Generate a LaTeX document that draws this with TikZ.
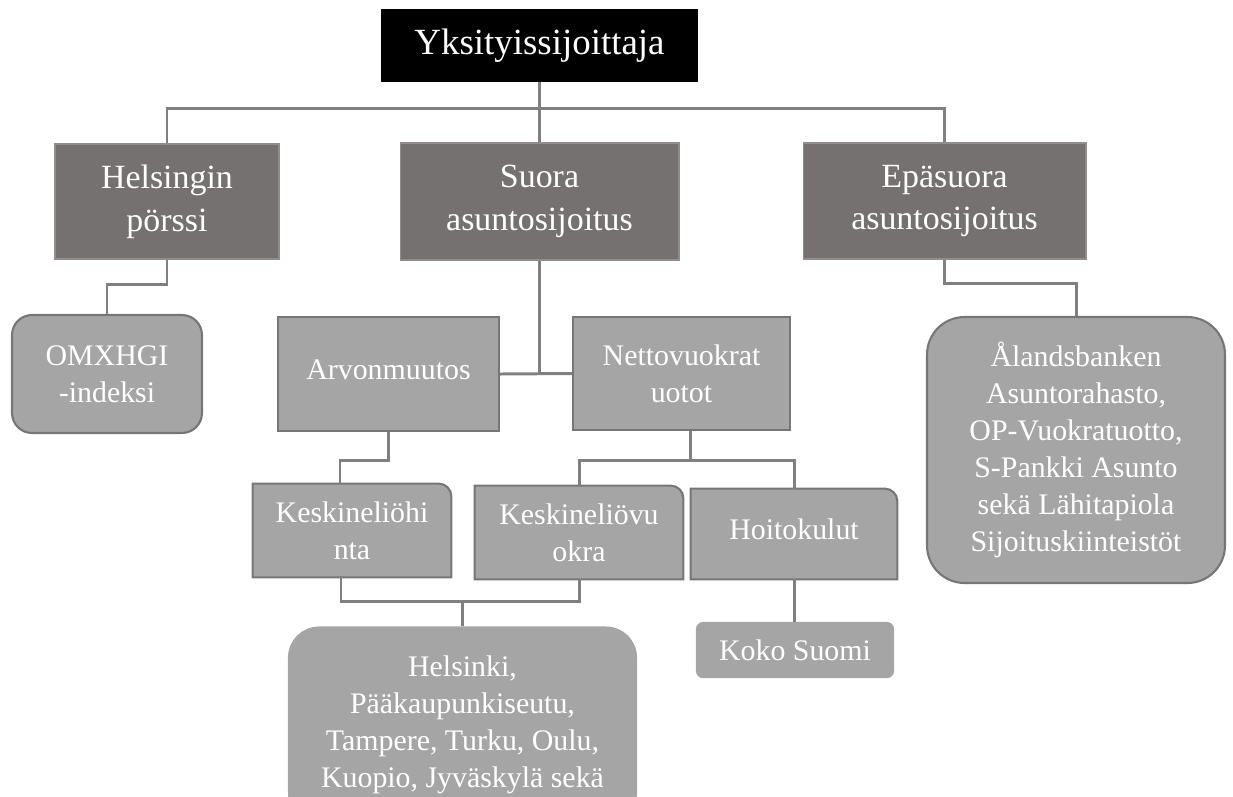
\documentclass[tikz,border=0pt]{standalone}
\usepackage{fontspec}
\setmainfont{Liberation Serif}
\usepackage{xcolor}
\usepackage{tikz}
\usetikzlibrary{calc}
\usetikzlibrary{positioning}
\usetikzlibrary{backgrounds}
\definecolor{boxdark}{HTML}{767171}
\definecolor{boxlight}{HTML}{A5A5A5}
\definecolor{boxedge}{HTML}{767676}
\definecolor{linegray}{HTML}{808080}
\tikzstyle{rootbox} = [fill=black, text=white, inner sep=0pt, minimum width=6.34cm, minimum height=1.46cm, font=\fontsize{21}{25}\selectfont]
\tikzstyle{mainbox} = [fill=boxdark, draw=boxdark!80!white, line width=0.6pt, text=white, align=center, inner sep=0pt, font=\fontsize{19.3}{24.4}\selectfont]
\tikzstyle{subbox} = [fill=boxlight, draw=boxedge, line width=1.2pt, text=white, align=center, inner sep=0pt, font=\fontsize{17}{21}\selectfont]
\tikzstyle{cornertext} = [text=white, align=center, inner sep=0pt, font=\fontsize{17}{21}\selectfont]
\tikzstyle{conn} = [-, draw=linegray, line width=1.7pt]

\begin{document}
\begin{tikzpicture}[x=0.02cm, y=-0.02cm]
\useasboundingbox (0,0) rectangle (1233,796);
\clip (0,0) rectangle (1233,796);

\node [rootbox] (root) at (539.5,45.5) {Yksityissijoittaja};
\node [mainbox, minimum width=4.48cm, minimum height=2.30cm] (hel) at (167,201.5) {Helsingin\\pörssi};
\node [mainbox, minimum width=5.58cm, minimum height=2.34cm] (suora) at (539.5,201.5) {Suora\\asuntosijoitus};
\node [mainbox, minimum width=5.66cm, minimum height=2.32cm] (epa) at (944.5,201) {Epäsuora\\asuntosijoitus};

\node [subbox, rounded corners=0.4cm, minimum width=3.80cm, minimum height=2.36cm] (omx) at (107,374) {OMXHGI\\-indeksi};
\node [subbox, minimum width=4.42cm, minimum height=2.28cm] (arvo) at (388.5,374) {\raisebox{5.5pt}{Arvonmuutos}};
\node [subbox, minimum width=4.34cm, minimum height=2.26cm] (netto) at (681.5,373.5) {Nettovuokrat\\uotot};
\node [subbox, rounded corners=0.75cm, minimum width=5.96cm, minimum height=5.32cm] (ala) at (1076,450)
  {Ålandsbanken\\Asuntorahasto,\\OP-Vuokratuotto,\\S-Pankki Asunto\\sekä Lähitapiola\\Sijoituskiinteistöt};

\node [cornertext, minimum width=3.96cm, minimum height=1.86cm] (kh) at (352,530.5) {Keskineliöhi\\nta};
\node [cornertext, minimum width=4.16cm, minimum height=1.86cm] (kv) at (579,532.5) {Keskineliövu\\okra};
\node [cornertext, minimum width=4.12cm, minimum height=1.80cm] (hoito) at (794,534) {\raisebox{5pt}{Hoitokulut}};

\node [subbox, draw=boxlight, rounded corners=0.12cm, minimum width=3.92cm, minimum height=1.08cm] (koko) at (795,650) {Koko Suomi};
\node [subbox, draw=boxlight, rounded corners=0.6cm, minimum width=6.94cm, minimum height=3.90cm] (hki) at (462.5,725)
  {Helsinki,\\Pääkaupunkiseutu,\\Tampere, Turku, Oulu,\\Kuopio, Jyväskylä sekä};

% boxes with one round corner
\begin{scope}[on background layer]
\foreach \n in {kh, kv, hoito} {
  \filldraw [fill=boxlight, draw=boxedge, line width=1.2pt] (\n.south west) -- (\n.north west)
    -- ([xshift=-0.25cm]\n.north east) arc [start angle=90, end angle=0, radius=0.25cm] -- (\n.south east) -- cycle;
}
\end{scope}

% connectors
\coordinate (bus) at (539.5,108);
\draw [conn] (root.south) -- (bus);
\draw [conn] (hel.north) |- (bus) -| (epa.north);
\draw [conn] (bus) -- (suora.north);
\draw [conn] (hel.south) -- ++(0,25) -| (omx.north);
\draw [conn] (epa.south) -- ++(0,24) -| (ala.north);
\draw [conn] (suora.south) -- (suora.south |- arvo.east);
\draw [conn] (arvo.east) -- (netto.west);
\draw [conn] (arvo.south) -- ++(0,28) -| ($(kh.north)+(-12,0)$);
\coordinate (nfork) at ($(netto.south)+(8.5,29)$);
\draw [conn] ($(netto.south)+(8.5,0)$) -- (nfork);
\draw [conn] (kv.north) |- (nfork) -| (hoito.north);
\coordinate (kfork) at (462.5,601);
\draw [conn] ($(kh.south)+(-11,0)$) |- (kfork);
\draw [conn] (kv.south) |- (kfork);
\draw [conn] (kfork) -- (kfork |- hki.north);
\draw [conn] (hoito.south) -- (hoito.south |- koko.north);
\end{tikzpicture}
\end{document}
